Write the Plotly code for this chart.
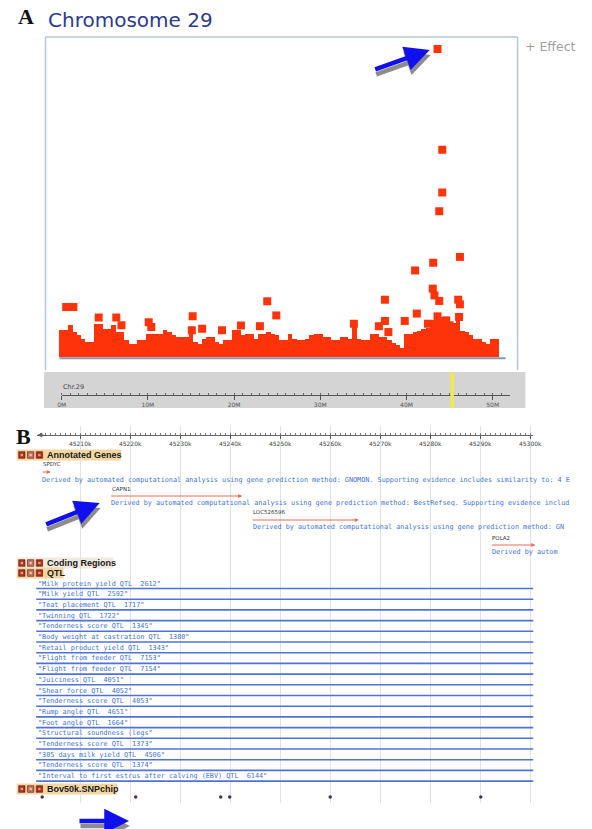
import plotly.graph_objects as go

W, H = 592, 829
def PX(px): return px / W
def PY(py): return 1 - py / H

# ---------------- Panel A data (Mb, -log10 p style effect) ----------------
band_mb = [0.0, 0.5, 1.0, 1.5, 2.0, 2.5, 3.0, 3.5, 4.0, 4.5,
           5.0, 5.5, 6.0, 6.5, 7.0, 7.5, 8.0, 8.5, 9.0, 9.5,
           10.0, 10.5, 11.0, 11.5, 12.0, 12.5, 13.0, 13.5, 14.0, 14.5,
           15.0, 15.5, 16.0, 16.5, 17.0, 17.5, 18.0, 18.5, 19.0, 19.5,
           20.0, 20.5, 21.0, 21.5, 22.0, 22.5, 23.0, 23.5, 24.0, 24.5,
           25.0, 25.5, 26.0, 26.5, 27.0, 27.5, 28.0, 28.5, 29.0, 29.5,
           30.0, 30.5, 31.0, 31.5, 32.0, 32.5, 33.0, 33.5, 34.0, 34.5,
           35.0, 35.5, 36.0, 36.5, 37.0, 37.5, 38.0, 38.5, 39.0, 39.5,
           40.0, 40.5, 41.0, 41.5, 42.0, 42.5, 43.0, 43.5, 44.0, 44.5,
           45.0, 45.5, 46.0, 46.5, 47.0, 47.5, 48.0, 48.5, 49.0, 49.5,
           50.0, 50.5]
band_h = [0.87, 0.87, 1.03, 0.80, 0.70, 0.60, 0.49, 0.49, 1.08, 1.08,
          0.92, 0.90, 1.03, 0.81, 0.81, 0.54, 0.43, 0.43, 0.54, 0.54,
          0.76, 0.76, 0.76, 0.76, 0.87, 0.80, 0.70, 0.65, 0.65, 0.65,
          0.76, 0.50, 0.43, 0.60, 0.65, 0.65, 0.50, 0.43, 0.54, 0.54,
          0.87, 0.87, 0.70, 0.76, 0.76, 0.60, 0.76, 0.76, 0.81, 0.75,
          0.70, 0.54, 0.54, 0.76, 0.60, 0.54, 0.54, 0.60, 0.70, 0.76,
          0.76, 0.65, 0.65, 0.54, 0.54, 0.65, 0.65, 0.60, 1.08, 0.60,
          0.54, 0.54, 0.76, 0.76, 0.65, 0.65, 0.55, 0.45, 0.38, 0.30,
          0.76, 0.76, 0.81, 0.85, 0.92, 0.95, 1.19, 1.40, 1.30, 1.19,
          0.97, 1.10, 1.30, 0.85, 0.81, 0.70, 0.60, 0.60, 0.50, 0.43,
          0.60, 0.60]

snp_mb = [43.6, 44.15, 44.15, 43.8, 46.2, 43.1, 41.0, 43.05, 43.25, 43.8,
          37.5, 46.0, 46.2, 0.53, 1.36, 23.85, 41.2, 24.9, 4.3, 6.34,
          15.2, 39.8, 37.5, 46.1, 10.1, 33.9, 43.6, 6.94, 20.8, 23.0,
          36.8, 16.3, 10.4, 18.6, 15.1, 37.9, 44.6, 45.0, 42.5]
snp_eff = [10.0, 6.73, 5.34, 4.73, 3.25, 3.06, 2.81, 2.22, 2.00, 1.82,
           1.86, 1.86, 1.71, 1.62, 1.62, 1.81, 1.41, 1.35, 1.28, 1.28,
           1.32, 1.17, 1.17, 1.30, 1.13, 1.08, 1.32, 1.03, 1.02, 1.00,
           1.00, 0.92, 0.97, 0.87, 0.87, 0.81, 1.19, 1.03, 1.08]

ruler_ticks_mb = [0, 10, 20, 30, 40, 50]
ruler_labels = ["0M", "10M", "20M", "30M", "40M", "50M"]
highlight_mb = 45.3

# ---------------- Panel B data (kb) ----------------
view_ticks_kb = [45210, 45220, 45230, 45240, 45250, 45260, 45270, 45280, 45290, 45300]
view_labels = ["45210k", "45220k", "45230k", "45240k", "45250k", "45260k", "45270k", "45280k", "45290k", "45300k"]
gene_names = ["SPDYC", "CAPN1", "LOC526596", "POLA2"]
gene_start = [45202.2, 45215.9, 45244.2, 45292.0]
gene_end = [45204.1, 45242.4, 45265.7, 45301.0]
gene_desc = [
    "Derived by automated computational analysis using gene prediction method: GNOMON. Supporting evidence includes similarity to: 4 E",
    "Derived by automated computational analysis using gene prediction method: BestRefseq. Supporting evidence includ",
    "Derived by automated computational analysis using gene prediction method: GN",
    "Derived by autom",
]
qtl_names = [
    "Milk protein yield QTL  2612", "Milk yield QTL  2592", "Teat placement QTL  1717",
    "Twinning QTL  1722", "Tenderness score QTL  1345", "Body weight at castration QTL  1380",
    "Retail product yield QTL  1343", "Flight from feeder QTL  7153", "Flight from feeder QTL  7154",
    "Juiciness QTL  4051", "Shear force QTL  4052", "Tenderness score QTL  4053",
    "Rump angle QTL  4651", "Foot angle QTL  1664", "Structural soundness (legs",
    "Tenderness score QTL  1373", "305 days milk yield QTL  4506", "Tenderness score QTL  1374",
    "Interval to first estrus after calving (EBV) QTL  6144",
]
qtl_start_kb = 45201.2
qtl_end_kb = 45300.6
chip_snp_kb = [45202.4, 45221.1, 45238.1, 45239.9, 45260.0, 45290.1]

RED = "#ff330a"
BLUE_TXT = "#3f74dc"
MONO = "DejaVu Sans Mono"

# pixel -> axis mapping constants
PX_PER_MB = 8.83
MB0_PX = 58
def mb_at(px): return (px - MB0_PX) / PX_PER_MB
PX_PER_KB = 5.122
def kb_at(px): return 45210 + (px - 77) / PX_PER_KB
EFF_PX = 30.8
def eff_at(py): return (357 - py) / EFF_PX

fig = go.Figure()

# Panel A traces
fig.add_trace(go.Bar(x=band_mb, y=band_h, width=0.53, marker=dict(color=RED, line=dict(width=0)),
                     xaxis="x", yaxis="y", hoverinfo="skip"))
fig.add_trace(go.Scatter(x=snp_mb, y=snp_eff, mode="markers", xaxis="x", yaxis="y",
                         marker=dict(symbol="square", size=8, color=RED, line=dict(width=0)),
                         hoverinfo="skip"))
fig.add_trace(go.Scatter(x=[], y=[], xaxis="x2", yaxis="y2"))
# Panel B traces
fig.add_trace(go.Scatter(x=chip_snp_kb, y=[797] * len(chip_snp_kb), mode="markers", xaxis="x3", yaxis="y3",
                         marker=dict(size=3.5, color="#4b2d5a"), hoverinfo="skip"))
fig.add_trace(go.Scatter(x=[], y=[], xaxis="x4", yaxis="y3"))

shapes = []
ann = []

# ---- Panel A frame
box_col = "#b4c6d8"
shapes += [
    dict(type="line", xref="paper", yref="paper", x0=PX(41.5), x1=PX(41.5), y0=PY(37), y1=PY(370), line=dict(color=box_col, width=1.5)),
    dict(type="line", xref="paper", yref="paper", x0=PX(41.5), x1=PX(525), y0=PY(37), y1=PY(37), line=dict(color=box_col, width=1.5)),
    dict(type="line", xref="paper", yref="paper", x0=PX(525), x1=PX(525), y0=PY(37), y1=PY(370), line=dict(color=box_col, width=1.5)),
    dict(type="line", xref="x", yref="y", x0=-0.25, x1=51.5, y0=-0.04, y1=-0.04, line=dict(color="#8a96ad", width=2)),
]
# ruler box A
shapes.append(dict(type="rect", xref="paper", yref="paper", x0=PX(40), x1=PX(533), y0=PY(408), y1=PY(372),
                   fillcolor="#d4d4d4", line=dict(width=0), layer="below"))
shapes.append(dict(type="line", xref="x2", yref="paper", x0=highlight_mb, x1=highlight_mb, y0=PY(408), y1=PY(372),
                   line=dict(color="#f2ea48", width=3.5)))

ann.append(dict(xref="paper", yref="paper", x=PX(11), y=PY(17), text="<b>A</b>", showarrow=False,
                xanchor="left", yanchor="middle", font=dict(family="Liberation Serif", size=22, color="#111")))
ann.append(dict(xref="paper", yref="paper", x=PX(42), y=PY(20), text="Chromosome 29", showarrow=False,
                xanchor="left", yanchor="middle", font=dict(family="DejaVu Sans", size=20, color="#2b3a94")))
ann.append(dict(xref="paper", yref="paper", x=PX(531), y=PY(46), text="+ Effect", showarrow=False,
                xanchor="left", yanchor="middle", font=dict(family="DejaVu Sans", size=12.5, color="#a0a0a0")))
ann.append(dict(xref="paper", yref="paper", x=PX(57), y=PY(387), text="Chr.29", showarrow=False,
                xanchor="left", yanchor="middle", font=dict(family="DejaVu Sans", size=6.5, color="#444")))
ann.append(dict(xref="x2", yref="paper", x=52.3, y=PY(395), ax=-8, ay=0, text="", showarrow=True,
                arrowhead=2, arrowsize=1, arrowwidth=1, arrowcolor="#555"))

def blue_arrow(tail, head):
    tx, ty = tail
    hx, hy = head
    ann.append(dict(xref="paper", yref="paper", x=PX(hx + 1), y=PY(hy + 5), ax=tx - hx, ay=ty - hy,
                    text="", showarrow=True, arrowhead=2, arrowsize=1.1, arrowwidth=4.5, arrowcolor="#8c8c8c"))
    ann.append(dict(xref="paper", yref="paper", x=PX(hx), y=PY(hy), ax=tx - hx, ay=ty - hy,
                    text="", showarrow=True, arrowhead=2, arrowsize=1.1, arrowwidth=4.5, arrowcolor="#1010ee"))

blue_arrow((379, 70), (435, 50))
blue_arrow((42, 525), (97, 503))
blue_arrow((76, 821), (127, 821))

# ---- Panel B
ann.append(dict(xref="paper", yref="paper", x=PX(9), y=PY(436), text="<b>B</b>", showarrow=False,
                xanchor="left", yanchor="middle", font=dict(family="Liberation Serif", size=22, color="#111")))
ann.append(dict(xref="x4", yref="paper", x=kb_at(33), y=PY(435), ax=8, ay=0, text="", showarrow=True,
                arrowhead=2, arrowsize=1, arrowwidth=1, arrowcolor="#666"))
ann.append(dict(xref="x4", yref="paper", x=kb_at(542), y=PY(435), ax=-8, ay=0, text="", showarrow=True,
                arrowhead=2, arrowsize=1, arrowwidth=1, arrowcolor="#666"))

def header(py, label, x_end, bg):
    shapes.append(dict(type="rect", xref="paper", yref="paper", x0=PX(12), x1=PX(x_end), y0=PY(py + 5.5), y1=PY(py - 5.5),
                       fillcolor=bg, line=dict(width=0), layer="below"))
    for i, (fc, ic) in enumerate([("#a8341e", "#e6a08c"), ("#c0705e", "#f0c0b0"), ("#ab2c18", "#e49480")]):
        x0 = 14 + i * 9
        shapes.append(dict(type="rect", xref="paper", yref="paper", x0=PX(x0), x1=PX(x0 + 6.5), y0=PY(py + 3.3), y1=PY(py - 3.3),
                           fillcolor=fc, line=dict(color="#6a1a0a", width=0.6)))
        shapes.append(dict(type="rect", xref="paper", yref="paper", x0=PX(x0 + 2), x1=PX(x0 + 4.5), y0=PY(py + 1.2), y1=PY(py - 1.2),
                           fillcolor=ic, line=dict(width=0)))
    ann.append(dict(xref="paper", yref="paper", x=PX(41), y=PY(py), text="<b>" + label + "</b>", showarrow=False,
                    xanchor="left", yanchor="middle", font=dict(family="Liberation Sans", size=9, color="#1a1a1a")))

header(455, "Annotated Genes", 119, "#f3d7a2")
header(563, "Coding Regions", 111, "#efe9df")
header(573, "QTL", 60, "#f3d7a2")
header(789, "Bov50k.SNPchip", 115, "#f3d7a2")

label_y = [464, 489, 512, 538]
line_y = [472, 496, 520, 545]
desc_y = [480, 503, 527, 552]
desc_x0 = [36, 107, 252, 497]
for i in range(len(gene_names)):
    ann.append(dict(xref="x3", yref="y3", x=gene_start[i], y=label_y[i], text=gene_names[i], showarrow=False,
                    xanchor="left", yanchor="middle", font=dict(family="DejaVu Sans", size=5.5, color="#333")))
    ann.append(dict(xref="x3", yref="y3", x=gene_end[i], y=line_y[i], axref="x3", ayref="y3",
                    ax=gene_start[i], ay=line_y[i], text="", showarrow=True,
                    arrowhead=2, arrowsize=0.8, arrowwidth=1, arrowcolor="#ea6a52"))
    ann.append(dict(xref="paper", yref="y3", x=PX(desc_x0[i]), y=desc_y[i], text=gene_desc[i], showarrow=False,
                    xanchor="left", yanchor="middle", font=dict(family=MONO, size=6.8, color=BLUE_TXT)))

for i, q in enumerate(qtl_names):
    ty = 583.5 + i * 10.7
    shapes.append(dict(type="line", xref="x3", yref="y3", x0=qtl_start_kb, x1=qtl_end_kb, y0=ty + 5, y1=ty + 5,
                       line=dict(color="#5072d8", width=1.6)))
    ann.append(dict(xref="x3", yref="y3", x=qtl_start_kb, y=ty, text='"' + q + '"', showarrow=False,
                    xanchor="left", yanchor="middle", font=dict(family=MONO, size=6.8, color=BLUE_TXT)))

noax = dict(showgrid=False, zeroline=False, showticklabels=False, ticks="", showline=False)
fig.update_layout(
    width=W, height=H, autosize=False, margin=dict(l=0, r=0, t=0, b=0, pad=0),
    paper_bgcolor="white", plot_bgcolor="rgba(0,0,0,0)", showlegend=False, bargap=0,
    xaxis=dict(domain=[PX(42), PX(525)], range=[mb_at(42), mb_at(525)], anchor="y", fixedrange=True, **noax),
    yaxis=dict(domain=[PY(370), PY(37)], range=[eff_at(370), eff_at(37)], anchor="x", **noax),
    xaxis2=dict(domain=[PX(58), PX(517)], range=[0, mb_at(517)], anchor="y2",
                showgrid=False, zeroline=False, showline=True, linecolor="#555", linewidth=1,
                tickmode="array", tickvals=ruler_ticks_mb, ticktext=ruler_labels,
                ticks="outside", ticklen=4, tickcolor="#555",
                tickfont=dict(family="DejaVu Sans", size=6, color="#555"),
                minor=dict(dtick=1, ticks="inside", ticklen=2, tickcolor="#666")),
    yaxis2=dict(domain=[PY(395), PY(380)], range=[0, 1], anchor="x2", **noax),
    xaxis3=dict(domain=[0, 1], range=[kb_at(0), kb_at(W)], anchor="y3", showgrid=True,
                gridcolor="#e2e2e2", gridwidth=1, tickvals=view_ticks_kb, showticklabels=False,
                ticks="", zeroline=False, showline=False),
    yaxis3=dict(domain=[PY(803), PY(426)], range=[803, 426], anchor="x3", **noax),
    xaxis4=dict(domain=[PX(33), PX(541)], range=[kb_at(33), kb_at(541)], anchor="free", position=PY(435),
                showgrid=False, zeroline=False, showline=True, linecolor="#666", linewidth=1,
                tickmode="array", tickvals=view_ticks_kb, ticktext=view_labels,
                ticks="outside", ticklen=3,
                tickcolor="#555", tickfont=dict(family="DejaVu Sans", size=6, color="#444"),
                minor=dict(dtick=1, ticks="inside", ticklen=2, tickcolor="#777")),
    shapes=shapes, annotations=ann,
)

post = (
    "document.documentElement.style.margin='0';document.documentElement.style.overflow='hidden';"
    "document.body.style.margin='0';document.body.style.padding='0';document.body.style.overflow='hidden';"
    "var gd=document.getElementById('{plot_id}');"
    "Plotly.relayout(gd,{width:592,height:829});"
)
fig.write_html("out.html", config={"responsive": False, "displayModeBar": False}, post_script=post)
